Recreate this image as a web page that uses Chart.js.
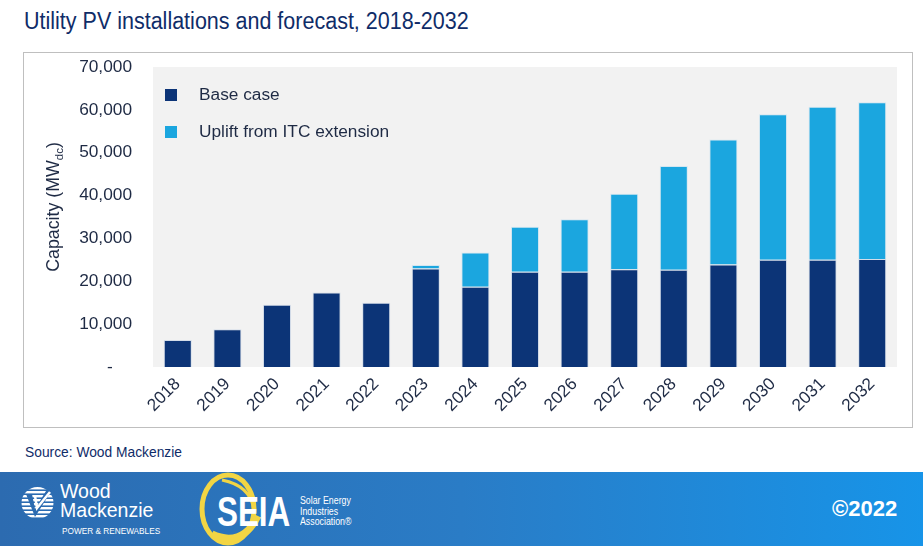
<!DOCTYPE html>
<html>
<head>
<meta charset="utf-8">
<script src="https://cdn.jsdelivr.net/npm/chart.js@4.4.1/dist/chart.umd.min.js"></script>
<style>
  html, body { margin: 0; padding: 0; background: #ffffff; }
  body { width: 923px; height: 546px; position: relative; overflow: hidden; font-family: "Liberation Sans", Arial, sans-serif; }
  #title { position: absolute; left: 24px; top: 8px; font-family: "Liberation Sans", Arial, sans-serif; font-size: 23.5px; color: #0F2C68; white-space: nowrap; transform: scaleX(0.915); transform-origin: 0 0; }
  #frame { position: absolute; left: 23px; top: 52px; width: 888px; height: 374px; border: 1px solid #BFBFBF; }
  #frame canvas { position: absolute; left: 0; top: 0; }
  #source { position: absolute; left: 25px; top: 443px; font-family: "Liberation Sans", Arial, sans-serif; font-size: 15px; color: #0F2C68; white-space: nowrap; transform: scaleX(0.92); transform-origin: 0 0; }
  #footer { position: absolute; left: 0; top: 472px; width: 923px; height: 74px; background: linear-gradient(90deg, #2C6BB0 0%, #2A7CC6 50%, #1794E8 100%); }
  #copy { position: absolute; left: 832px; top: 24px; color: #fff; font-weight: bold; font-size: 22px; font-family: "Liberation Sans", Arial, sans-serif; white-space: nowrap; }
  .wm { position: absolute; color: #fff; font-family: "Liberation Sans", Arial, sans-serif; white-space: nowrap; transform-origin: 0 0; }
</style>
</head>
<body>
<div id="title">Utility PV installations and forecast, 2018-2032</div>
<div id="frame"><canvas id="c" width="888" height="374"></canvas></div>
<div id="source">Source: Wood Mackenzie</div>
<div id="footer">
  <svg width="360" height="74" style="position:absolute;left:0;top:0">
    <defs>
      <clipPath id="cc"><circle cx="37.5" cy="31" r="16"/></clipPath>
    </defs>
    <g clip-path="url(#cc)" fill="#ffffff">
      <rect x="20" y="15" width="40" height="2.4"/>
      <rect x="20" y="19" width="40" height="2.4"/>
      <rect x="20" y="23" width="40" height="2.4"/>
      <rect x="20" y="27" width="40" height="2.4"/>
      <rect x="20" y="31" width="40" height="2.4"/>
      <rect x="20" y="35" width="40" height="2.4"/>
      <rect x="20" y="39" width="40" height="2.4"/>
      <rect x="20" y="43" width="40" height="2.4"/>
    </g>
    <path d="M26 22 L35 45 L52 18 L46 19 L35 37 L32 22 Z" fill="#2C6BB0"/>
    <path d="M35 24 L37 36 L50 20" fill="none" stroke="#ffffff" stroke-width="2.5"/>
    <ellipse cx="228" cy="37" rx="26" ry="34" fill="none" stroke="#F2D544" stroke-width="5"/>
    <path d="M212 62 Q242 76 258 44" fill="none" stroke="#F2D544" stroke-width="7"/>
    <path d="M222 8 Q252 14 254 40" fill="none" stroke="#F2D544" stroke-width="3"/>
  </svg>
  <div class="wm" style="left:60px;top:8px;font-size:21px;line-height:22px;transform:scaleX(0.93)">Wood</div>
  <div class="wm" style="left:60px;top:27px;font-size:21px;line-height:22px;transform:scaleX(0.93)">Mackenzie</div>
  <div class="wm" style="left:62px;top:54px;font-size:8.5px;line-height:10px;transform:scaleX(0.97)">POWER &amp; RENEWABLES</div>
  <div class="wm" style="left:217px;top:17px;font-size:43px;line-height:44px;font-weight:bold;transform:scaleX(0.73)">SEIA</div>
  <div class="wm" style="left:300px;top:24px;font-size:10px;line-height:10.5px;transform:scaleX(0.88)">Solar Energy<br>Industries<br>Association®</div>
  <div id="copy">©2022</div>
</div>
<script>
const categories = ['2018','2019','2020','2021','2022','2023','2024','2025','2026','2027','2028','2029','2030','2031','2032'];
const baseCase = [6300, 8800, 14500, 17400, 15000, 23000, 18700, 22200, 22200, 22800, 22700, 23900, 25000, 25000, 25200];
const upliftITC = [0, 0, 0, 0, 0, 800, 8000, 10500, 12300, 17600, 24200, 29200, 34000, 35700, 36600];
const seriesNames = ['Base case', 'Uplift from ITC extension'];
const yTicks = [0, 10000, 20000, 30000, 40000, 50000, 60000, 70000];

const FONT = '"Liberation Sans", Arial, sans-serif';
const TXT = '#1E2A44';

const bgPlugin = {
  id: 'bg',
  beforeDraw(chart) {
    const a = chart.chartArea, ctx = chart.ctx;
    ctx.save();
    ctx.fillStyle = '#F2F2F2';
    ctx.fillRect(a.left, a.top, a.right - a.left, a.bottom - a.top);
    ctx.restore();
  },
  afterDraw(chart) {
    const ctx = chart.ctx, a = chart.chartArea;
    ctx.save();
    ctx.font = '17.3px ' + FONT;
    ctx.textBaseline = 'middle';
    chart.data.datasets.forEach((ds, i) => {
      const y = a.top + 28 + i * 37;
      const x = a.left + 12;
      ctx.fillStyle = ds.backgroundColor;
      ctx.fillRect(x, y - 6, 12, 12);
      ctx.fillStyle = TXT;
      ctx.fillText(ds.label, x + 34, y);
    });
    ctx.restore();
    ctx.save();
    ctx.translate(29, 154);
    ctx.rotate(-Math.PI / 2);
    ctx.fillStyle = TXT;
    ctx.textBaseline = 'alphabetic';
    const f1 = '17.8px ' + FONT, f2 = '11.5px ' + FONT;
    ctx.font = f1; const w1 = ctx.measureText('Capacity (MW').width; const w3 = ctx.measureText(')').width;
    ctx.font = f2; const w2 = ctx.measureText('dc').width;
    let x = -(w1 + w2 + w3) / 2;
    const base = 6;
    ctx.font = f1; ctx.fillText('Capacity (MW', x, base); x += w1;
    ctx.font = f2; ctx.fillText('dc', x, base + 4); x += w2;
    ctx.font = f1; ctx.fillText(')', x, base);
    ctx.restore();
  }
};

new Chart(document.getElementById('c'), {
  type: 'bar',
  data: {
    labels: categories,
    datasets: [
      { label: seriesNames[0], data: baseCase, backgroundColor: '#0C3477', borderColor: 'rgba(200,212,230,0.7)', borderWidth: 1, categoryPercentage: 1, barPercentage: 0.565 },
      { label: seriesNames[1], data: upliftITC, backgroundColor: '#1BA6DF', borderColor: 'rgba(200,225,240,0.7)', borderWidth: 1, categoryPercentage: 1, barPercentage: 0.565 }
    ]
  },
  options: {
    responsive: false,
    animation: false,
    layout: { padding: { top: 14, right: 15, left: 0, bottom: 0 } },
    plugins: { legend: { display: false }, tooltip: { enabled: false }, title: { display: false } },
    scales: {
      x: {
        stacked: true,
        grid: { display: false, drawTicks: false },
        border: { display: false },
        ticks: { color: TXT, font: { size: 17.3, family: FONT }, minRotation: 45, maxRotation: 45, padding: 7 },
        afterFit(s) { s.height = 60; s.paddingLeft = 0; s.paddingRight = 0; s.paddingTop = 0; s.paddingBottom = 0; }
      },
      y: {
        stacked: true,
        min: 0, max: 70000,
        grid: { display: false, drawTicks: false },
        border: { display: false },
        afterBuildTicks(s) { s.ticks = yTicks.map(v => ({ value: v })); },
        ticks: {
          color: TXT, font: { size: 17.3, family: FONT }, padding: 21,
          callback: v => v === 0 ? '-    ' : v.toLocaleString('en-US')
        },
        afterFit(s) { s.width = 129; s.paddingTop = 0; s.paddingBottom = 0; }
      }
    }
  },
  plugins: [bgPlugin]
});
</script>
</body>
</html>
